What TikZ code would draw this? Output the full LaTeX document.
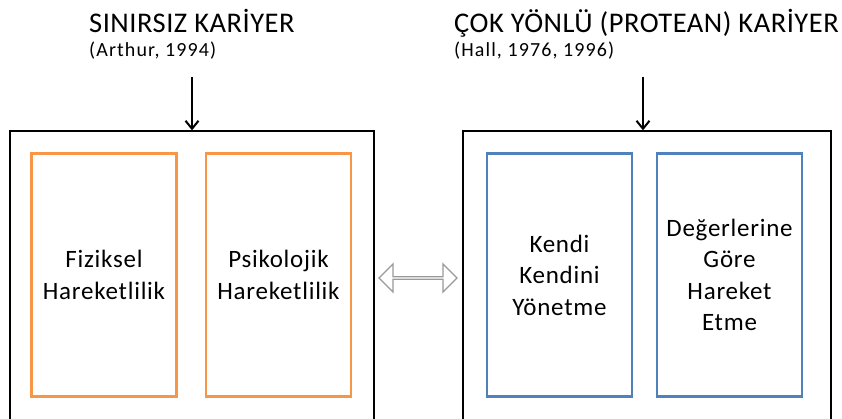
\documentclass[tikz,border=0pt]{standalone}
\usepackage{fontspec}
\setmainfont{Carlito}
\usetikzlibrary{shapes.arrows, arrows.meta, positioning}
\definecolor{boxOrange}{HTML}{F79646}
\definecolor{boxBlue}{HTML}{4F81BD}
\tikzset{
  outerBox/.style={rectangle, draw=black, line width=1.3pt, minimum width=364pt, minimum height=320pt},
  innerOrange/.style={rectangle, draw=boxOrange, line width=2.8pt, minimum width=145pt, minimum height=243pt, align=center, font=\fontsize{25}{31.5}\selectfont\addfontfeatures{LetterSpace=3}},
  innerBlue/.style={rectangle, draw=boxBlue, line width=2.8pt, minimum width=145pt, minimum height=243pt, align=center, font=\fontsize{25}{31.5}\selectfont\addfontfeatures{LetterSpace=3}},
  titleText/.style={anchor=north west, inner sep=0pt, font=\fontsize{28.5}{32}\selectfont\addfontfeatures{LetterSpace=1.8}},
  refText/.style={anchor=north west, inner sep=0pt, font=\fontsize{20}{24}\selectfont\addfontfeatures{LetterSpace=5.5}},
  downArr/.style={line width=2pt, -{Straight Barb[length=8pt, width=13pt]}},
}
\begin{document}
\begin{tikzpicture}[x=1pt, y=-1pt]
\clip (0,0) rectangle (842,419);
\useasboundingbox (0,0) rectangle (842,419);
\node (left) [outerBox] at (192,291) {};
\node (right) [outerBox, minimum width=368pt] at (647,291) {};

% Orange and blue boxes
\node (fizik) [innerOrange] at (104,275) {Fiziksel\\Hareketlilik};
\node (psiko) [innerOrange] at (278.5,275) {Psikolojik\\Hareketlilik};
\node (kendi) [innerBlue] at (559.5,275) {Kendi\\Kendini\\Yönetme};
\node (deger) [innerBlue] at (729.5,275) {Değerlerine\\Göre\\Hareket\\Etme};

% Titles
\node (sinirsiz) [titleText] at (89,9) {SINIRSIZ KARİYER};
\node (arthur) [refText] at (89,42) {(Arthur, 1994)};
\node (protean) [titleText] at (454,9) {ÇOK YÖNLÜ (PROTEAN) KARİYER};
\node (hall) [refText] at (454,42) {(Hall, 1976, 1996)};

\coordinate (ltop) at (192,77);
\coordinate (rtop) at (643,77);
\draw [downArr] (ltop) -- (left.north);
\draw [downArr] (rtop) -- (rtop |- right.north);

% Two-way arrow
\node (iki) [double arrow, draw=gray!80, line width=1.3pt, fill=white, minimum width=28pt, minimum height=78pt, double arrow head extend=7pt, inner sep=0pt] at (418,278) {};
\end{tikzpicture}
\end{document}
